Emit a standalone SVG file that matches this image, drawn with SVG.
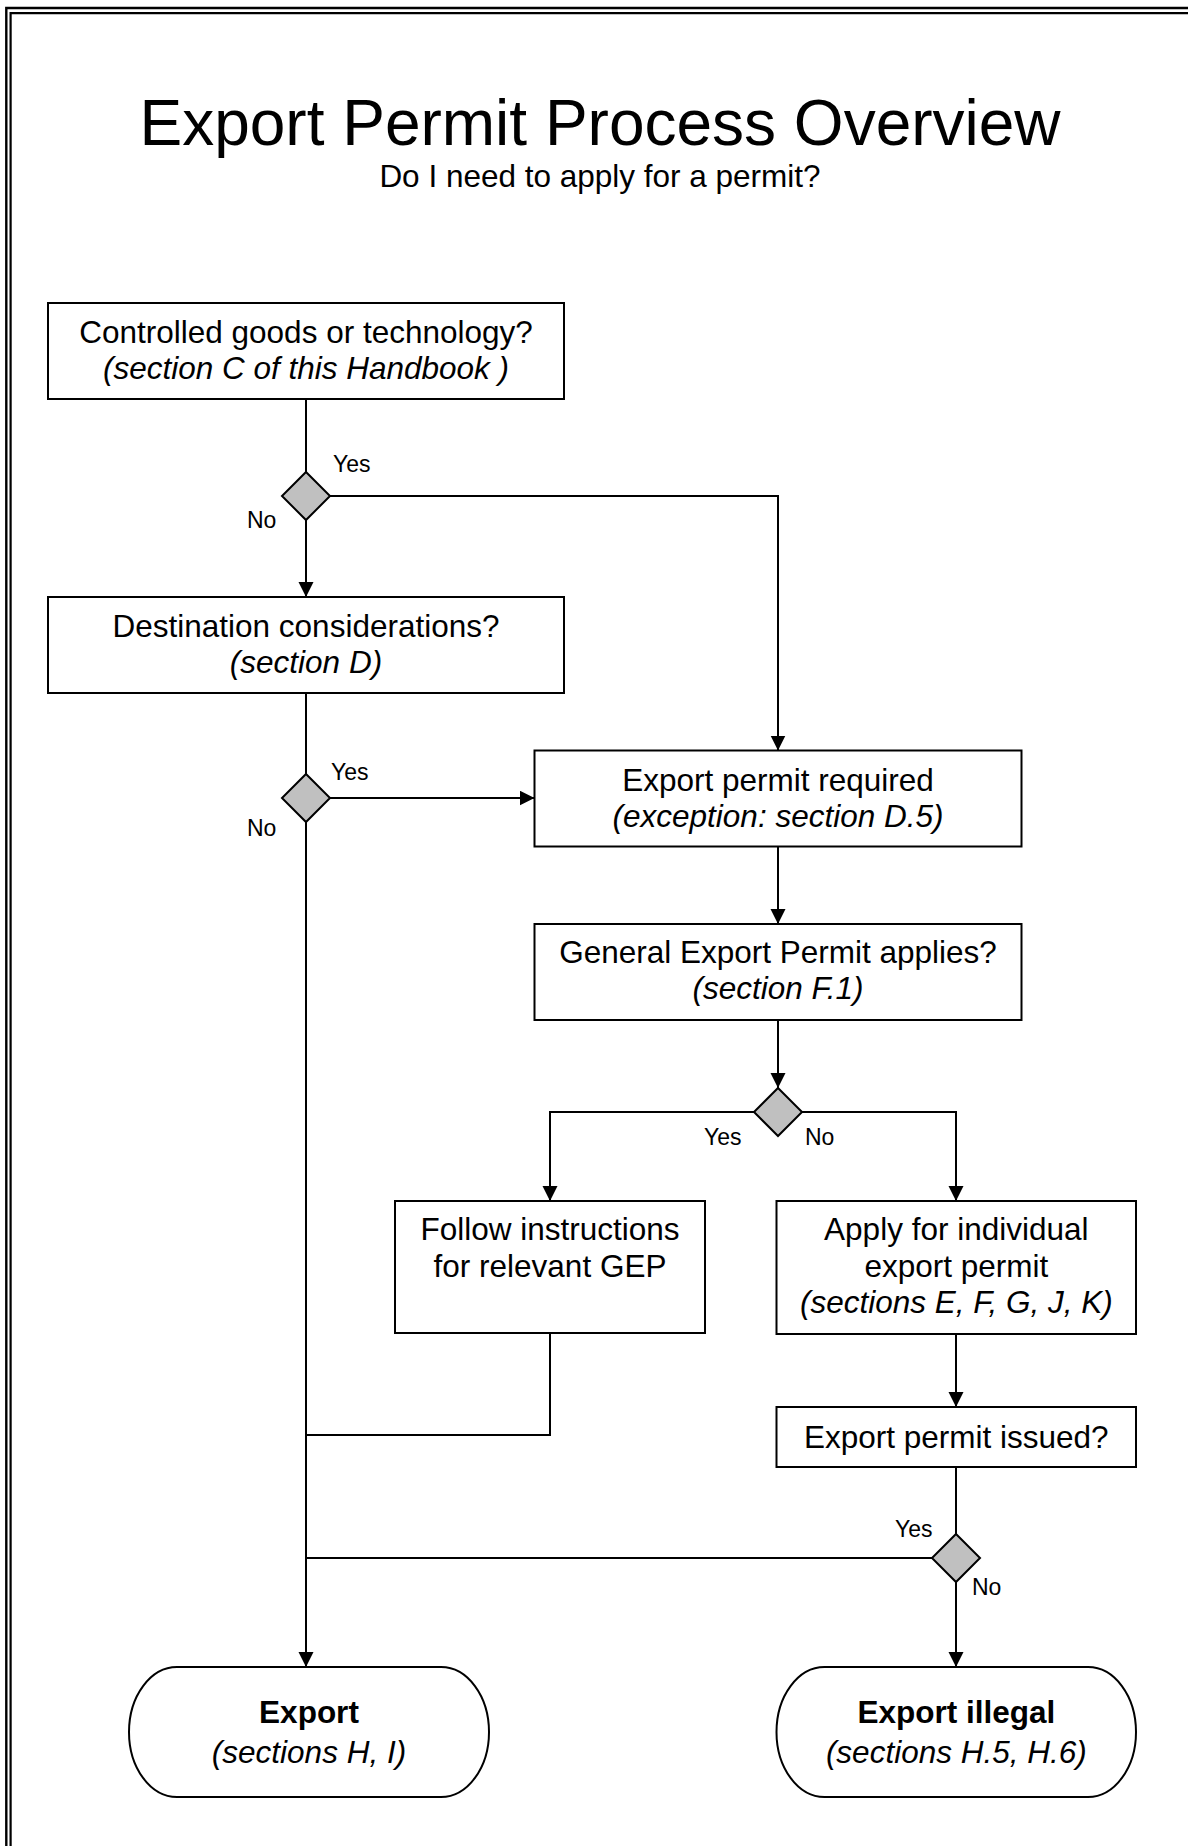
<svg xmlns="http://www.w3.org/2000/svg" width="1188" height="1846" viewBox="0 0 1188 1846">
<defs>
<marker id="arr" markerUnits="userSpaceOnUse" markerWidth="16" markerHeight="16" refX="15" refY="7.5" orient="auto">
<path d="M0,0 L15,7.5 L0,15 z" fill="#000"/>
</marker>
<style>
.frame{fill:none;stroke:#000}
.box{fill:#fff;stroke:#000;stroke-width:2}
.dia{fill:#c0c0c0;stroke:#000;stroke-width:2}
.ln{fill:none;stroke:#000;stroke-width:2}
.t{font-family:"Liberation Sans",Arial,sans-serif;font-size:31.5px;fill:#000;text-anchor:middle}
.i{font-style:italic}
.b{font-weight:bold}
.lab{font-family:"Liberation Sans",Arial,sans-serif;font-size:23px;fill:#000}
</style>
</defs>
<rect width="1188" height="1846" fill="#fff"/>
<g id="frame">
<path class="frame" stroke-width="2.4" d="M6.3,1846 V8 H1188"/>
<path class="frame" stroke-width="2.2" d="M10.6,1846 V13.2 H1188"/>
</g>
<g id="title">
<text x="600" y="145" style="font-family:'Liberation Sans',Arial,sans-serif;font-size:64px;text-anchor:middle">Export Permit Process Overview</text>
<text x="600" y="187" class="t">Do I need to apply for a permit?</text>
</g>
<g id="connectors">
<path class="ln" d="M306,399 V472"/>
<path class="ln" d="M306,520 V597" marker-end="url(#arr)"/>
<path class="ln" d="M330,496 H778 V750.5" marker-end="url(#arr)"/>
<path class="ln" d="M306,693 V774"/>
<path class="ln" d="M330,798 H534.5" marker-end="url(#arr)"/>
<path class="ln" d="M306,822 V1667" marker-end="url(#arr)"/>
<path class="ln" d="M778,846.5 V924" marker-end="url(#arr)"/>
<path class="ln" d="M778,1020 V1088" marker-end="url(#arr)"/>
<path class="ln" d="M754,1112 H550 V1201" marker-end="url(#arr)"/>
<path class="ln" d="M802,1112 H956 V1201" marker-end="url(#arr)"/>
<path class="ln" d="M550,1333 V1435 H306"/>
<path class="ln" d="M956,1334 V1407" marker-end="url(#arr)"/>
<path class="ln" d="M956,1467 V1534"/>
<path class="ln" d="M932,1558 H306"/>
<path class="ln" d="M956,1582 V1667" marker-end="url(#arr)"/>
<text class="lab" x="333" y="472">Yes</text>
<text class="lab" x="247" y="528">No</text>
<text class="lab" x="331" y="780">Yes</text>
<text class="lab" x="247" y="836">No</text>
<text class="lab" x="704" y="1145">Yes</text>
<text class="lab" x="805" y="1145">No</text>
<text class="lab" x="895" y="1537">Yes</text>
<text class="lab" x="972" y="1595">No</text>
</g>
<g id="n-controlled">
<rect class="box" x="48" y="303" width="516" height="96"/>
<text class="t" x="306" y="343.3">Controlled goods or technology?</text>
<text class="t i" x="306" y="379.3">(section C of this Handbook )</text>
</g>
<g id="d-controlled"><path class="dia" d="M306,472 L330,496 L306,520 L282,496 z"/></g>
<g id="n-destination">
<rect class="box" x="48" y="597" width="516" height="96"/>
<text class="t" x="306" y="636.7">Destination considerations?</text>
<text class="t i" x="306" y="672.7">(section D)</text>
</g>
<g id="d-destination"><path class="dia" d="M306,774 L330,798 L306,822 L282,798 z"/></g>
<g id="n-required">
<rect class="box" x="534.5" y="750.5" width="487" height="96"/>
<text class="t" x="778" y="790.7">Export permit required</text>
<text class="t i" x="778" y="826.5">(exception: section D.5)</text>
</g>
<g id="n-general">
<rect class="box" x="534.5" y="924" width="487" height="96"/>
<text class="t" x="778" y="963.3">General Export Permit applies?</text>
<text class="t i" x="778" y="999.3">(section F.1)</text>
</g>
<g id="d-general"><path class="dia" d="M778,1088 L802,1112 L778,1136 L754,1112 z"/></g>
<g id="n-follow">
<rect class="box" x="395" y="1201" width="310" height="132"/>
<text class="t" x="550" y="1240">Follow instructions</text>
<text class="t" x="550" y="1276.7">for relevant GEP</text>
</g>
<g id="n-apply">
<rect class="box" x="776.5" y="1201" width="359.5" height="133"/>
<text class="t" x="956.3" y="1240">Apply for individual</text>
<text class="t" x="956.3" y="1276.7">export permit</text>
<text class="t i" x="956.3" y="1313.3">(sections E, F, G, J, K)</text>
</g>
<g id="n-issued">
<rect class="box" x="776.5" y="1407" width="359.5" height="60"/>
<text class="t" x="956.3" y="1448">Export permit issued?</text>
</g>
<g id="d-issued"><path class="dia" d="M956,1534 L980,1558 L956,1582 L932,1558 z"/></g>
<g id="n-export">
<rect class="box" x="129" y="1667" width="360" height="130" rx="48" ry="65"/>
<text class="t b" x="309" y="1723.3">Export</text>
<text class="t i" x="309" y="1763.3">(sections H, I)</text>
</g>
<g id="n-illegal">
<rect class="box" x="776.5" y="1667" width="359.5" height="130" rx="48" ry="65"/>
<text class="t b" x="956.3" y="1723.3">Export illegal</text>
<text class="t i" x="956.3" y="1763.3">(sections H.5, H.6)</text>
</g>
</svg>
